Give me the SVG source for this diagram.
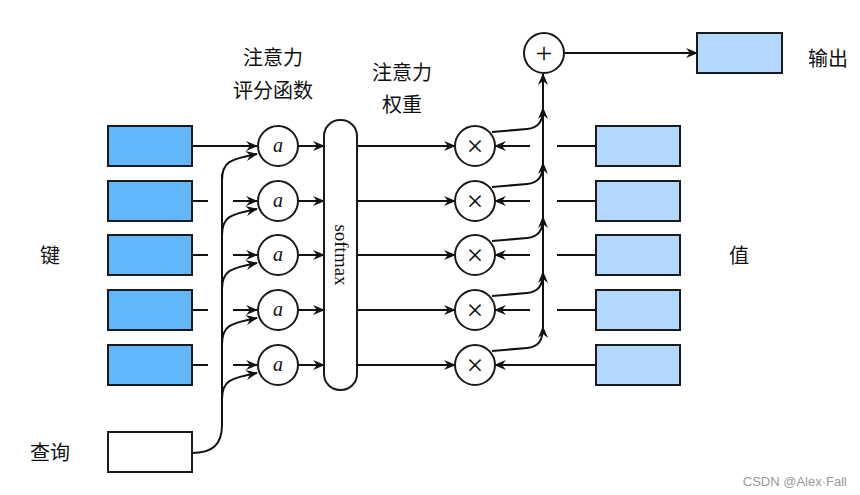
<svg xmlns="http://www.w3.org/2000/svg" width="860" height="495" viewBox="0 0 860 495">
<style>
.key{fill:#62b7fb;stroke:#1a1a1a;stroke-width:2}
.val{fill:#b2d8fd;stroke:#1a1a1a;stroke-width:2}
.qry{fill:#fff;stroke:#1a1a1a;stroke-width:2}
.op{fill:#fff;stroke:#1a1a1a;stroke-width:2}
.ln{fill:none;stroke:#111;stroke-width:2}
.arr{fill:none;stroke:#111;stroke-width:2;marker-end:url(#ah)}
.zh{font-family:"Noto Sans CJK SC","Noto Sans",sans-serif;font-size:20px;fill:#111}
.it{font-family:"Liberation Serif",serif;font-style:italic;font-size:20px;fill:#111}
.sym{font-family:"Liberation Serif",serif;font-size:30px;fill:#111}
.sm{font-family:"Liberation Serif",serif;font-size:19px;fill:#111}
</style>
<defs>
<marker id="ah" viewBox="0 0 12 10" refX="11" refY="5" markerWidth="12" markerHeight="10" markerUnits="userSpaceOnUse" orient="auto">
<path d="M0,0 L12,5 L0,10 L4,5 z" fill="#111"/>
</marker>
</defs>
<g id="connectors">
<line class="arr" x1="192" y1="146" x2="257" y2="146"/>
<line class="ln" x1="192" y1="201" x2="208" y2="201"/>
<line class="arr" x1="233" y1="201" x2="257" y2="201"/>
<line class="ln" x1="192" y1="255" x2="208" y2="255"/>
<line class="arr" x1="233" y1="255" x2="257" y2="255"/>
<line class="ln" x1="192" y1="310" x2="208" y2="310"/>
<line class="arr" x1="233" y1="310" x2="257" y2="310"/>
<line class="ln" x1="192" y1="365" x2="208" y2="365"/>
<line class="arr" x1="233" y1="365" x2="257" y2="365"/>
<path class="ln" d="M192,453 C212,453 222,445 222,425 L222,174"/>
<path class="arr" d="M222,180 C222,162 230,159 257,154"/>
<path class="arr" d="M222,235 C222,217 230,214 257,209"/>
<path class="arr" d="M222,289 C222,271 230,268 257,263"/>
<path class="arr" d="M222,344 C222,326 230,323 257,318"/>
<path class="arr" d="M222,399 C222,381 230,378 257,373"/>
<line class="arr" x1="298" y1="146" x2="324" y2="146"/>
<line class="arr" x1="298" y1="201" x2="324" y2="201"/>
<line class="arr" x1="298" y1="255" x2="324" y2="255"/>
<line class="arr" x1="298" y1="310" x2="324" y2="310"/>
<line class="arr" x1="298" y1="365" x2="324" y2="365"/>
<line class="arr" x1="357" y1="146" x2="455" y2="146"/>
<line class="arr" x1="357" y1="201" x2="455" y2="201"/>
<line class="arr" x1="357" y1="255" x2="455" y2="255"/>
<line class="arr" x1="357" y1="310" x2="455" y2="310"/>
<line class="arr" x1="357" y1="365" x2="455" y2="365"/>
<line class="ln" x1="596" y1="146" x2="557" y2="146"/>
<line class="arr" x1="530" y1="146" x2="495" y2="146"/>
<line class="ln" x1="596" y1="201" x2="557" y2="201"/>
<line class="arr" x1="530" y1="201" x2="495" y2="201"/>
<line class="ln" x1="596" y1="255" x2="557" y2="255"/>
<line class="arr" x1="530" y1="255" x2="495" y2="255"/>
<line class="ln" x1="596" y1="310" x2="557" y2="310"/>
<line class="arr" x1="530" y1="310" x2="495" y2="310"/>
<line class="arr" x1="596" y1="365" x2="495" y2="365"/>
<path class="arr" d="M492,132 L527,129 C538,128 543,122 543,108"/>
<path class="arr" d="M492,187 L527,184 C538,183 543,177 543,163"/>
<path class="arr" d="M492,241 L527,238 C538,237 543,231 543,217"/>
<path class="arr" d="M492,296 L527,293 C538,292 543,286 543,272"/>
<path class="arr" d="M492,351 L527,348 C538,347 543,341 543,327"/>
<line class="arr" x1="543" y1="330" x2="543" y2="74"/>
<line class="arr" x1="564" y1="53" x2="697" y2="53"/>
</g>
<g id="keys">
<rect class="key" x="108" y="126" width="84" height="40"/>
<rect class="key" x="108" y="181" width="84" height="40"/>
<rect class="key" x="108" y="235" width="84" height="40"/>
<rect class="key" x="108" y="290" width="84" height="40"/>
<rect class="key" x="108" y="345" width="84" height="40"/>
</g>
<g id="query"><rect class="qry" x="108" y="432" width="84" height="40"/></g>
<g id="values">
<rect class="val" x="596" y="126" width="84" height="40"/>
<rect class="val" x="596" y="181" width="84" height="40"/>
<rect class="val" x="596" y="235" width="84" height="40"/>
<rect class="val" x="596" y="290" width="84" height="40"/>
<rect class="val" x="596" y="345" width="84" height="40"/>
</g>
<g id="output"><rect class="val" x="697" y="33" width="85" height="40"/></g>
<g id="scores">
<circle class="op" cx="278" cy="146" r="20"/><text class="it" x="278" y="152" text-anchor="middle">a</text>
<circle class="op" cx="278" cy="201" r="20"/><text class="it" x="278" y="207" text-anchor="middle">a</text>
<circle class="op" cx="278" cy="255" r="20"/><text class="it" x="278" y="261" text-anchor="middle">a</text>
<circle class="op" cx="278" cy="310" r="20"/><text class="it" x="278" y="316" text-anchor="middle">a</text>
<circle class="op" cx="278" cy="365" r="20"/><text class="it" x="278" y="371" text-anchor="middle">a</text>
</g>
<g id="softmax">
<rect class="op" x="324" y="120" width="33" height="270" rx="16" ry="16"/>
<text class="sm" transform="translate(340.5,255) rotate(90)" text-anchor="middle" y="6">softmax</text>
</g>
<g id="mults">
<circle class="op" cx="475" cy="146" r="20"/><text class="sym" x="475" y="156" text-anchor="middle">×</text>
<circle class="op" cx="475" cy="201" r="20"/><text class="sym" x="475" y="211" text-anchor="middle">×</text>
<circle class="op" cx="475" cy="255" r="20"/><text class="sym" x="475" y="265" text-anchor="middle">×</text>
<circle class="op" cx="475" cy="310" r="20"/><text class="sym" x="475" y="320" text-anchor="middle">×</text>
<circle class="op" cx="475" cy="365" r="20"/><text class="sym" x="475" y="375" text-anchor="middle">×</text>
</g>
<g id="sum">
<circle class="op" cx="544" cy="53" r="20"/><text class="sym" x="544" y="63" text-anchor="middle">+</text>
</g>
<g id="labels">
<text class="zh" x="273" y="65" text-anchor="middle">注意力</text>
<text class="zh" x="273" y="98" text-anchor="middle">评分函数</text>
<text class="zh" x="402" y="80" text-anchor="middle">注意力</text>
<text class="zh" x="402" y="112" text-anchor="middle">权重</text>
<text class="zh" x="828" y="66" text-anchor="middle">输出</text>
<text class="zh" x="739" y="263" text-anchor="middle">值</text>
<text class="zh" x="50" y="263" text-anchor="middle">键</text>
<text class="zh" x="50" y="460" text-anchor="middle">查询</text>
<text x="847" y="486" text-anchor="end" style="font-family:'Liberation Sans',sans-serif;font-size:13px;fill:#999">CSDN @Alex·Fall</text>
</g>
</svg>
